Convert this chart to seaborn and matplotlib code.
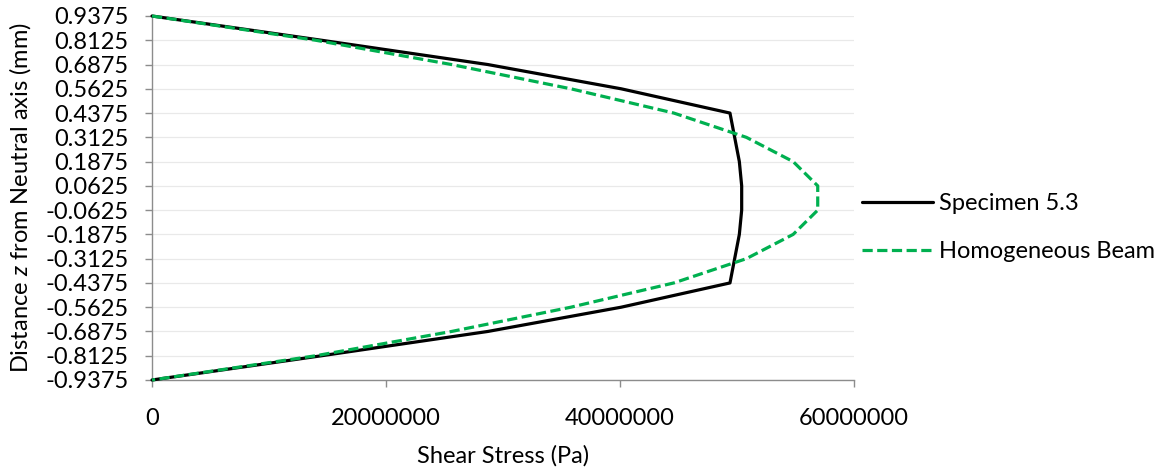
import matplotlib
matplotlib.use("Agg")
import matplotlib.pyplot as plt
import pandas as pd
import seaborn as sns

# ---------------- data ----------------
z_mm = [0.9375, 0.8125, 0.6875, 0.5625, 0.4375, 0.3125, 0.1875, 0.0625,
        -0.0625, -0.1875, -0.3125, -0.4375, -0.5625, -0.6875, -0.8125, -0.9375]
specimen_pa = [0, 14500000, 28700000, 40100000, 49400000, 49800000, 50200000, 50400000,
               50400000, 50200000, 49800000, 49400000, 40100000, 28700000, 14500000, 0]
homogeneous_pa = [0, 14000000, 25600000, 35800000, 44600000, 50800000, 54800000, 56900000,
                  56900000, 54800000, 50800000, 44600000, 35800000, 25600000, 14000000, 0]
series_names = ["Specimen 5.3", "Homogeneous Beam"]
x_ticks = [0, 20000000, 40000000, 60000000]
x_tick_labels = ["0", "20000000", "40000000", "60000000"]
y_tick_labels = ["0.9375", "0.8125", "0.6875", "0.5625", "0.4375", "0.3125", "0.1875", "0.0625",
                 "-0.0625", "-0.1875", "-0.3125", "-0.4375", "-0.5625", "-0.6875", "-0.8125", "-0.9375"]
x_label = "Shear Stress (Pa)"
y_label = "Distance $\\mathit{z}$ from Neutral axis (mm)"

df_spec = pd.DataFrame({"stress": specimen_pa, "z": z_mm})
df_homo = pd.DataFrame({"stress": homogeneous_pa, "z": z_mm})

# ---------------- style ----------------
sns.set_theme(style="white")
FONT = "Lato"
plt.rcParams["font.family"] = [FONT, "DejaVu Sans"]
plt.rcParams["mathtext.fontset"] = "custom"
plt.rcParams["mathtext.rm"] = FONT
plt.rcParams["mathtext.it"] = FONT + ":italic"

W, H = 1173, 470
fig = plt.figure(figsize=(W / 100, H / 100), dpi=100)
fig.patch.set_facecolor("white")
L, R, T, B = 152, 854, 16, 380
ax = fig.add_axes([L / W, 1 - B / H, (R - L) / W, (B - T) / H])
ax.set_facecolor("white")

renderer = fig.canvas.get_renderer()


def fit_size(text, target_px, base=20):
    t = fig.text(0, 0, text, fontsize=base, family=[FONT, "DejaVu Sans"])
    w = t.get_window_extent(renderer).width
    t.remove()
    return base * target_px / w


fs = fit_size("0.9375", 74)

GREEN = "#00B050"
sns.lineplot(data=df_spec, x="stress", y="z", orient="y", sort=False, estimator=None,
             color="black", lw=2.3, ax=ax, label=series_names[0], clip_on=False, zorder=3)
sns.lineplot(data=df_homo, x="stress", y="z", orient="y", sort=False, estimator=None,
             color=GREEN, lw=2.3, ax=ax, label=series_names[1], clip_on=False, zorder=4,
             linestyle=(0, (3.2, 1.4)))

ax.set_xlim(0, 60000000)
ax.set_ylim(-0.9375, 0.9375)
ax.set_xticks(x_ticks)
ax.set_xticklabels(x_tick_labels)
ax.set_yticks(z_mm)
ax.set_yticklabels(y_tick_labels)

ax.grid(False)
for y in z_mm:
    ax.axhline(y, color="#E9E9E9", lw=0.9, zorder=1)

SP = "#8C8C8C"
for side in ["top", "right"]:
    ax.spines[side].set_visible(False)
for side in ["left", "bottom"]:
    ax.spines[side].set_color(SP)
    ax.spines[side].set_linewidth(1.0)
    ax.spines[side].set_zorder(2)

ax.tick_params(axis="y", which="major", direction="out", length=5, width=1.0, color=SP,
               pad=12, labelsize=fs, labelcolor="black", left=True)
ax.tick_params(axis="x", which="major", direction="out", length=5, width=1.0, color=SP,
               pad=15, labelsize=fs, labelcolor="black", bottom=True)

ax.set_xlabel(x_label, fontsize=fs, color="black", va="center")
ax.xaxis.set_label_coords(0.5, (B - 456) / (B - T))
ax.set_ylabel(y_label, fontsize=fs, color="black", va="center")
ax.yaxis.set_label_coords((20 - L) / (R - L), 0.5)

handles, labels = ax.get_legend_handles_labels()
if ax.get_legend():
    ax.get_legend().remove()
leg = fig.legend(handles, labels, loc="center left",
                 bbox_to_anchor=(862 / W, 1 - 227.5 / H), frameon=False,
                 fontsize=fs, handlelength=3.0, handletextpad=0.25,
                 labelspacing=1.15, borderpad=0, borderaxespad=0)
for t in leg.get_texts():
    t.set_color("black")

fig.savefig("out.png", dpi=100, facecolor="white")
